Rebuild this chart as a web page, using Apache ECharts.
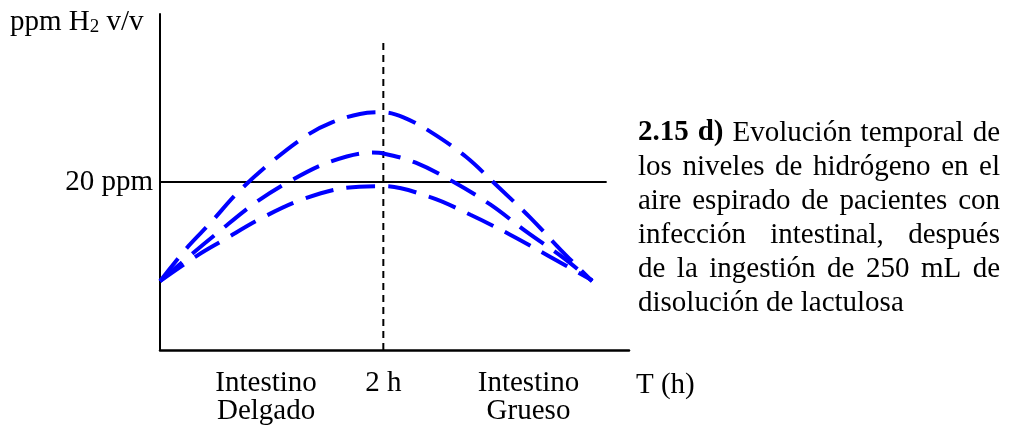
<!DOCTYPE html>
<html>
<head>
<meta charset="utf-8">
<script src="https://cdn.jsdelivr.net/npm/echarts@6/dist/echarts.min.js"></script>
<style>
html,body{margin:0;padding:0;background:#fff;}
#chart{width:1010px;height:425px;}
</style>
</head>
<body>
<div id="chart"></div>
<script>
// ---- Data (hours, ppm H2 v/v) ----
const topHours = [0, 0.25, 0.45, 0.70, 1.00, 1.32, 1.54, 1.79, 2.00, 2.18, 2.42, 2.74, 3.03, 3.32, 3.59, 3.87];
const topPpm   = [8.2, 12.3, 15.1, 18.8, 22.4, 25.6, 27.1, 28.1, 28.3, 27.7, 26.0, 23.0, 19.4, 15.7, 11.9, 8.2];
const midHours = [0, 0.31, 0.52, 0.83, 1.15, 1.52, 1.90, 2.00, 2.29, 2.63, 2.96, 3.29, 3.61, 3.87];
const midPpm   = [8.2, 11.7, 14.0, 17.3, 20.0, 22.4, 23.5, 23.4, 22.3, 20.0, 17.3, 14.0, 11.0, 8.2];
const lowHours = [0, 0.34, 0.57, 0.91, 1.27, 1.66, 2.00, 2.42, 2.78, 3.14, 3.48, 3.87];
const lowPpm   = [8.2, 11.3, 13.1, 15.7, 17.9, 19.3, 19.5, 18.2, 16.1, 13.7, 11.2, 8.3];
const thresholdPpm = 20;
const thresholdHours = [0, 4];
const markerHour = 2;
const markerTopPpm = 37.1;
const xMax = 4.2, yMax = 40;
const categoryLabels = [
  {x: 0.95, lines: ['Intestino', 'Delgado']},
  {x: 2.0,  lines: ['2 h']},
  {x: 3.30, lines: ['Intestino', 'Grueso']}
];
const xAxisTitle = 'T (h)';
const captionBold = '2.15 d)';
const captionLines = [
  '2.15 d) Evolución temporal de',
  'los niveles de hidrógeno en el',
  'aire espirado de pacientes con',
  'infección intestinal, después',
  'de la ingestión de 250 mL de',
  'disolución de lactulosa'
];

const zip = (xs, ys) => xs.map((x, i) => [x, ys[i]]);
const FONT = '"Liberation Serif", "DejaVu Serif", serif';
const FS = 29;
const blue = '#0000ff';
const curveStyle = {color: blue, width: 4, type: [29, 13], cap: 'butt'};

const chart = echarts.init(document.getElementById('chart'), null, {renderer: 'canvas'});
const curve = (name, xs, ys) => ({
  name, type: 'line', data: zip(xs, ys), smooth: 0.35, symbol: 'none',
  lineStyle: curveStyle, z: 5, silent: true
});
chart.setOption({
  animation: false,
  grid: {left: 160, right: 381, top: 14, bottom: 75},
  xAxis: {
    type: 'value', min: 0, max: xMax,
    axisLine: {show: true, lineStyle: {color: '#000', width: 2.5}},
    axisTick: {show: false}, axisLabel: {show: false}, splitLine: {show: false}
  },
  yAxis: {
    type: 'value', min: 0, max: yMax, interval: 20,
    axisLine: {show: true, lineStyle: {color: '#000', width: 2}},
    axisTick: {show: false}, splitLine: {show: false},
    axisLabel: {
      show: true, margin: 7, color: '#000', fontFamily: FONT, fontSize: FS,
      formatter: v => (v === thresholdPpm ? thresholdPpm + ' ppm' : '')
    }
  },
  series: [
    {type: 'line', data: thresholdHours.map(h => [h, thresholdPpm]), symbol: 'none',
     lineStyle: {color: '#000', width: 2}, z: 3, silent: true},
    {type: 'line', data: [[markerHour, 0], [markerHour, markerTopPpm]], symbol: 'none',
     lineStyle: {color: '#000', width: 2, type: [7, 5]}, z: 4, silent: true},
    curve('top', topHours, topPpm),
    curve('mid', midHours, midPpm),
    curve('low', lowHours, lowPpm)
  ]
});

// ---- texts ----
const g = [];
g.push({
  type: 'text', left: 10, top: 8,
  style: {
    text: '{n|ppm H}{s|2}{n| v/v}',
    rich: {
      n: {fontFamily: FONT, fontSize: FS, fill: '#000', verticalAlign: 'bottom', lineHeight: 32},
      s: {fontFamily: FONT, fontSize: 19, fill: '#000', verticalAlign: 'bottom', lineHeight: 15}
    }
  }
});
categoryLabels.forEach(c => {
  const px = chart.convertToPixel({gridIndex: 0}, [c.x, 0])[0];
  c.lines.forEach((t, i) => {
    g.push({type: 'text', x: px, y: 383 + i * 28,
      style: {text: t, fontFamily: FONT, fontSize: FS, fill: '#000', align: 'center', verticalAlign: 'middle'}});
  });
});
g.push({type: 'text', x: 636, y: 385,
  style: {text: xAxisTitle, fontFamily: FONT, fontSize: FS, fill: '#000', align: 'left', verticalAlign: 'middle'}});

// justified caption
const ctx = document.createElement('canvas').getContext('2d');
const measure = (t, bold) => { ctx.font = (bold ? 'bold ' : '') + FS + 'px ' + FONT; return ctx.measureText(t).width; };
const capLeft = 638, capRight = 1000, capTop = 133, capLH = 34;
const boldWords = captionBold.split(' ');
captionLines.forEach((line, li) => {
  const words = line.split(' ');
  const y = capTop + li * capLH;
  const isBold = (w, wi) => li === 0 && wi < boldWords.length;
  const widths = words.map((w, wi) => measure(w, isBold(w, wi)));
  const total = widths.reduce((a, b) => a + b, 0);
  const last = li === captionLines.length - 1;
  const gap = last ? measure(' ', false) : (capRight - capLeft - total) / (words.length - 1);
  let x = capLeft;
  words.forEach((w, wi) => {
    g.push({type: 'text', x: x, y: y,
      style: {text: w, fontFamily: FONT, fontSize: FS, fontWeight: isBold(w, wi) ? 'bold' : 'normal',
              fill: '#000', align: 'left', verticalAlign: 'middle'}});
    x += widths[wi] + gap;
  });
});
chart.setOption({graphic: g});
</script>
</body>
</html>
